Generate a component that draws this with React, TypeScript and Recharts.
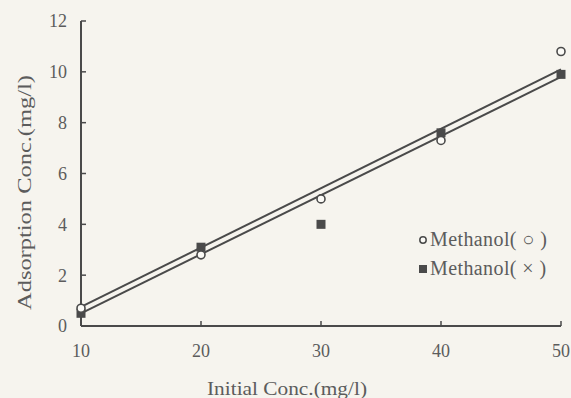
import { ComposedChart, Line, Scatter, XAxis, YAxis } from "recharts";

const concentrations = [10, 20, 30, 40, 50];
const methanolO = [0.7, 2.8, 5.0, 7.3, 10.8];
const methanolX = [0.5, 3.1, 4.0, 7.6, 9.9];

// fitted lines, read at both ends of the range
const fitX = [10, 50];
const fitO = [0.75, 10.1];
const fitXLine = [0.5, 9.8];

const xTicks = [10, 20, 30, 40, 50];
const yTicks = [0, 2, 4, 6, 8, 10, 12];

const seriesNames = ["Methanol( ○ )", "Methanol( × )"];

const INK = "#4a4a4a";
const TEXT = "#5c5c5c";
const FONT = "'Liberation Serif', 'DejaVu Serif', serif";

const pointsO = concentrations.map((c, i) => ({ x: c, y: methanolO[i] }));
const pointsX = concentrations.map((c, i) => ({ x: c, y: methanolX[i] }));
const lineO = fitX.map((c, i) => ({ x: c, y: fitO[i] }));
const lineX = fitX.map((c, i) => ({ x: c, y: fitXLine[i] }));

const OpenCircle = (props: any) => {
  const { cx, cy } = props;
  return <circle cx={cx} cy={cy} r={4} fill="#fbfaf6" stroke={INK} strokeWidth={1.6} />;
};

const FilledSquare = (props: any) => {
  const { cx, cy } = props;
  return <rect x={cx - 4.5} y={cy - 4.5} width={9} height={9} fill={INK} />;
};

const LegendBox = () => (
  <div
    style={{
      position: "absolute",
      left: 418,
      top: 225,
      fontFamily: FONT,
      fontSize: 20,
      letterSpacing: 0.4,
      color: TEXT,
      lineHeight: "29px",
      whiteSpace: "nowrap",
    }}
  >
    <div style={{ display: "flex", alignItems: "center" }}>
      <svg width={10} height={10} style={{ marginRight: 2 }}>
        <circle cx={5} cy={5} r={3.2} fill="#fbfaf6" stroke={INK} strokeWidth={1.5} />
      </svg>
      {seriesNames[0]}
    </div>
    <div style={{ display: "flex", alignItems: "center" }}>
      <svg width={10} height={10} style={{ marginRight: 2 }}>
        <rect x={1} y={1} width={8} height={8} fill={INK} />
      </svg>
      {seriesNames[1]}
    </div>
  </div>
);

export default function App() {
  return (
    <div
      style={{
        position: "absolute",
        left: 0,
        top: 0,
        width: 571,
        height: 398,
        background: "#f6f4ee",
      }}
    >
      <ComposedChart
        width={571}
        height={398}
        margin={{ top: 21, right: 10, bottom: 0, left: 0 }}
      >
        <XAxis
          type="number"
          dataKey="x"
          domain={[10, 50]}
          ticks={xTicks}
          height={72}
          axisLine={{ stroke: INK, strokeWidth: 2 }}
          tickLine={{ stroke: INK, strokeWidth: 1.5 }}
          tickSize={-5}
          tickMargin={23}
          tick={{ fill: TEXT, fontFamily: FONT, fontSize: 18 }}
          label={{
            content: () => (
              <text
                x={207}
                y={395}
                textLength={160}
                lengthAdjust="spacingAndGlyphs"
                fill={TEXT}
                fontFamily={FONT}
                fontSize={18}
              >
                Initial Conc.(mg/l)
              </text>
            ),
          }}
        />
        <YAxis
          type="number"
          domain={[0, 12]}
          ticks={yTicks}
          width={81}
          axisLine={{ stroke: INK, strokeWidth: 2 }}
          tickLine={{ stroke: INK, strokeWidth: 1.5 }}
          tickSize={-5}
          tickMargin={19}
          tick={{ fill: TEXT, fontFamily: FONT, fontSize: 18 }}
          label={{
            content: () => (
              <text
                x={0}
                y={0}
                transform="translate(31 310) rotate(-90)"
                textLength={235}
                lengthAdjust="spacingAndGlyphs"
                fill={TEXT}
                fontFamily={FONT}
                fontSize={19}
              >
                Adsorption Conc.(mg/l)
              </text>
            ),
          }}
        />
        <Line
          data={lineO}
          dataKey="y"
          stroke={INK}
          strokeWidth={2}
          dot={false}
          isAnimationActive={false}
        />
        <Line
          data={lineX}
          dataKey="y"
          stroke={INK}
          strokeWidth={2}
          dot={false}
          isAnimationActive={false}
        />
        <Scatter
          name={seriesNames[1]}
          data={pointsX}
          dataKey="y"
          shape={<FilledSquare />}
          isAnimationActive={false}
        />
        <Scatter
          name={seriesNames[0]}
          data={pointsO}
          dataKey="y"
          shape={<OpenCircle />}
          isAnimationActive={false}
        />
      </ComposedChart>
      <LegendBox />
    </div>
  );
}
